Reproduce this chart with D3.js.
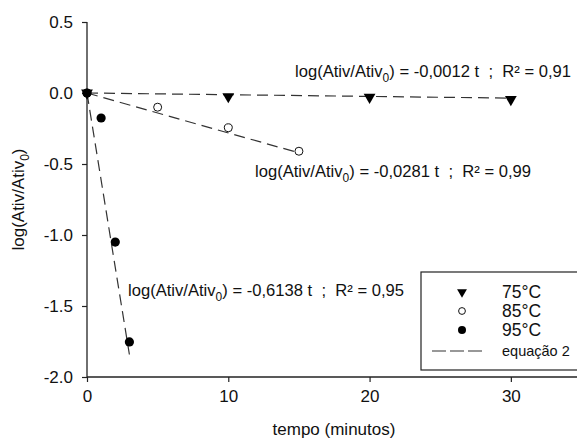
<!DOCTYPE html>
<html><head><meta charset="utf-8">
<script src="https://cdn.jsdelivr.net/npm/d3@7"></script>
<style>body{margin:0;background:#fff}svg{display:block;font-family:"Liberation Sans",Arial,sans-serif}</style>
</head><body><svg id="c" width="577" height="438"></svg>
<script>
const t75 = [0, 10, 20, 30];
const y75 = [0, -0.025, -0.03, -0.045];
const t85 = [0, 5, 10, 15];
const y85 = [0, -0.1, -0.245, -0.41];
const t95 = [0, 1, 2, 3];
const y95 = [0, -0.176, -1.05, -1.753];
const fitSlopes = [-0.0012, -0.0281, -0.6138];
const fitEnds = [30, 15, 3];
const fitLabels = [
  ["-0,0012", "0,91"],
  ["-0,0281", "0,99"],
  ["-0,6138", "0,95"]
];
const xTicks = [0, 10, 20, 30];
const yTicks = [0.5, 0.0, -0.5, -1.0, -1.5, -2.0];
const legendLabels = ["75°C", "85°C", "95°C", "equação 2"];

const svg = d3.select("#c");
const x = d3.scaleLinear().domain([0, 35]).range([87, 581.5]);
const y = d3.scaleLinear().domain([-2, 0.5]).range([377, 22]);
const ink = "#222";
const FS = 17;

// axes
const gx = svg.append("g").attr("transform", `translate(0,${y(-2)})`)
  .call(d3.axisBottom(x).tickValues(xTicks).tickSize(5).tickPadding(8).tickFormat(d3.format("d")));
const gy = svg.append("g").attr("transform", `translate(${x(0)},0)`)
  .call(d3.axisLeft(y).tickValues(yTicks).tickSize(5).tickPadding(9).tickFormat(d3.format(".1f")));
[gx, gy].forEach(g => {
  g.select(".domain").attr("stroke", ink).attr("stroke-width", 1.3);
  g.selectAll(".tick line").attr("stroke", ink).attr("stroke-width", 1.2);
  g.selectAll(".tick text").attr("font-size", FS).attr("fill", "#111")
    .attr("font-family", '"Liberation Sans",Arial,sans-serif');
});
gx.select(".domain").attr("d", `M${x(0)},0H${x(35)}`);
gy.select(".domain").attr("d", `M0,${y(0.5)}V${y(-2)}`);
gy.selectAll(".tick text").text(d => d3.format(".1f")(d).replace("−", "-"));

// axis titles
svg.append("text").attr("x", 334).attr("y", 435).attr("text-anchor", "middle")
  .attr("font-size", FS).attr("fill", "#111").text("tempo (minutos)");
const yl = svg.append("text").attr("transform", `translate(24,${(y(0.5) + y(-2)) / 2}) rotate(-90)`)
  .attr("text-anchor", "middle").attr("font-size", FS).attr("fill", "#111");
yl.append("tspan").text("log(Ativ/Ativ");
yl.append("tspan").attr("font-size", 12).attr("dy", 5).text("0");
yl.append("tspan").attr("dy", -5).text(")");

// fit lines
const line = d3.line().x(d => x(d[0])).y(d => y(d[1]));
fitSlopes.forEach((s, i) => {
  svg.append("path").datum([[0, 0], [fitEnds[i], s * fitEnds[i]]])
    .attr("d", line).attr("fill", "none").attr("stroke", "#333")
    .attr("stroke-width", 1.2).attr("stroke-dasharray", "11,6");
});

// points
const tri = d3.symbol().type(d3.symbolTriangle).size(60);
svg.append("g").selectAll("path").data(t75.map((t, i) => [t, y75[i]])).join("path")
  .attr("d", tri).attr("transform", d => `translate(${x(d[0])},${y(d[1])}) rotate(180)`).attr("fill", "#000");
svg.append("g").selectAll("circle").data(t85.map((t, i) => [t, y85[i]])).join("circle")
  .attr("cx", d => x(d[0])).attr("cy", d => y(d[1])).attr("r", 4)
  .attr("fill", "#fff").attr("stroke", "#111").attr("stroke-width", 1);
svg.append("g").selectAll("circle").data(t95.map((t, i) => [t, y95[i]])).join("circle")
  .attr("cx", d => x(d[0])).attr("cy", d => y(d[1])).attr("r", 4.6).attr("fill", "#000");

// annotations
const annPos = [[295, 77], [255, 177], [128, 296]];
fitLabels.forEach((lab, i) => {
  const t = svg.append("text").attr("x", annPos[i][0]).attr("y", annPos[i][1])
    .attr("font-size", 16.6).attr("fill", "#111").attr("xml:space", "preserve").style("white-space", "pre");
  t.append("tspan").text("log(Ativ/Ativ");
  t.append("tspan").attr("font-size", 12).attr("dy", 5).text("0");
  t.append("tspan").attr("dy", -5).text(`) = ${lab[0]} t  ;  R² = ${lab[1]}`);
});

// legend
const lg = svg.append("g");
lg.append("rect").attr("x", 421).attr("y", 272).attr("width", 170).attr("height", 98)
  .attr("fill", "#fff").attr("stroke", ink).attr("stroke-width", 1.2);
const rows = [292, 311, 330, 351];
lg.append("path").attr("d", d3.symbol().type(d3.symbolTriangle).size(42)())
  .attr("transform", `translate(462,${rows[0]}) rotate(180)`).attr("fill", "#000");
lg.append("circle").attr("cx", 462).attr("cy", rows[1]).attr("r", 3.4)
  .attr("fill", "#fff").attr("stroke", "#111").attr("stroke-width", 1);
lg.append("circle").attr("cx", 462).attr("cy", rows[2]).attr("r", 4).attr("fill", "#000");
lg.append("line").attr("x1", 432).attr("x2", 482).attr("y1", rows[3]).attr("y2", rows[3])
  .attr("stroke", "#333").attr("stroke-width", 1.2).attr("stroke-dasharray", "14,4");
legendLabels.forEach((l, i) => {
  lg.append("text").attr("x", 502).attr("y", rows[i]).attr("dy", "0.35em")
    .attr("font-size", i === 3 ? 14.5 : 17.5).attr("fill", "#111").text(l);
});
</script></body></html>
